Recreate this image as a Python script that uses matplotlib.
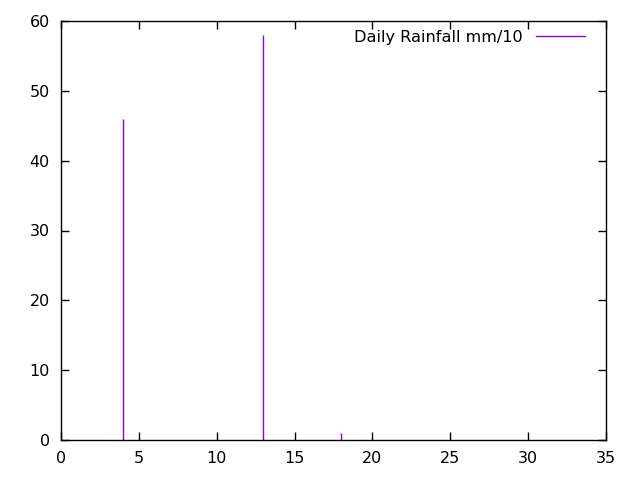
import matplotlib
matplotlib.use("Agg")
import matplotlib.pyplot as plt
from matplotlib.lines import Line2D

# days of the month and rainfall in mm/10
days = [4, 13, 18]
rain = [46, 58, 1]
label = "Daily Rainfall mm/10"
purple = "#9400d3"

plt.rcParams["font.family"] = "DejaVu Sans"
plt.rcParams["font.size"] = 11

fig = plt.figure(figsize=(6.4, 4.8), dpi=100)
ax = fig.add_axes([61 / 640, 40 / 480, 545 / 640, 419 / 480])

ax.vlines(days, 0, rain, color=purple, linewidth=1)

ax.set_xlim(0, 35)
ax.set_ylim(0, 60)
ax.set_xticks(range(0, 36, 5))
ax.set_yticks(range(0, 61, 10))
ax.tick_params(direction="in", length=6, width=1, top=True, right=True,
               colors="black", labelsize=11.5, pad=8)
for s in ax.spines.values():
    s.set_linewidth(1)

handle = Line2D([], [], color=purple, linewidth=1)
leg = ax.legend([handle], [label], loc="upper right", frameon=False,
                markerfirst=False, handlelength=3.05, handletextpad=0.8,
                borderpad=0, borderaxespad=0,
                bbox_to_anchor=(585 / 640, 1 - 30 / 480),
                bbox_transform=fig.transFigure, fontsize=11.6)

fig.savefig("out.png", dpi=100)
